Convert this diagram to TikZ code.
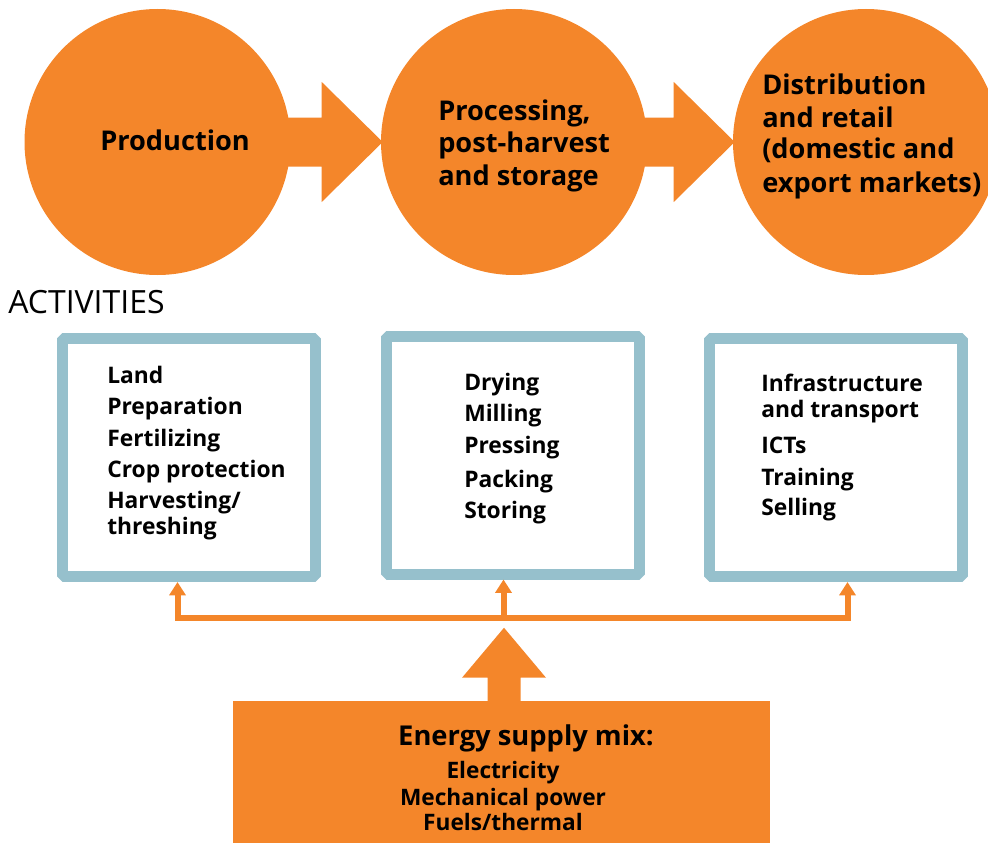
\documentclass[tikz,border=0pt]{standalone}
\usepackage{fontspec}
\setmainfont{Open Sans}
\usetikzlibrary{arrows.meta,calc}
\definecolor{chainorange}{HTML}{F4862A}
\definecolor{framblue}{HTML}{96C0CC}
% fat arrow from one stage circle to the next
\newcommand{\stagearrow}[2]{%
  \fill[chainorange] ($(#1.east)+(-8,-24.5)$) -- ($(#2.west)+(-59,-24.5)$)
    -- ($(#2.west)+(-59,-60)$) -- ($(#2.west)+(2,0)$) -- ($(#2.west)+(-59,60)$)
    -- ($(#2.west)+(-59,24.5)$) -- ($(#1.east)+(-8,24.5)$) -- cycle;}

\begin{document}
\begin{tikzpicture}[x=0.75pt,y=-0.75pt,
  stage/.style={circle, fill=chainorange, minimum size=199.5pt, inner sep=0pt},
  stagetext/.style={anchor=base west, inner sep=0pt, font=\fontsize{20.4}{24}\selectfont\bfseries},
  actbox/.style={draw=framblue, line width=8.25pt, line join=bevel, minimum width=189.75pt, minimum height=178.5pt, inner sep=0pt},
  item/.style={anchor=base west, inner sep=0pt, font=\fontsize{17.1}{21}\selectfont\bfseries},
  feed/.style={draw=chainorange, line width=4.5pt},
  >={Triangle[width=12pt,length=10pt]}]
\useasboundingbox (0,0) rectangle (988,842);

% Stages of the chain
\node[stage] (prod) at (157.5,142) {};
\node[stage] (proc) at (514,142) {};
\node[stage] (dist) at (866,142) {};
\stagearrow{prod}{proc}
\stagearrow{proc}{dist}

\node[stagetext] (prodt) at (100,150) {Production};
\foreach \y/\t [count=\i] in {120/{Processing,},152/post-harvest,185/and storage}
    \node[stagetext] (proct\i) at (438,\y) {\t};
\foreach \y/\t [count=\i] in {94/Distribution,127/and retail,158/(domestic and,192/export markets)}
    \node[stagetext] (distt\i) at (762,\y) {\t};

\node[anchor=base west, inner sep=0pt, font=\fontsize{24}{28}\selectfont] (acts) at (8,313) {ACTIVITIES};

% Activity boxes
\node[actbox] (box1) at (189,457.5) {};
\node[actbox] (box2) at (513,455) {};
\node[actbox] (box3) at (836,457.5) {};

\foreach \y/\t [count=\i] in {383/Land,414/Preparation,446/Fertilizing,477/Crop protection,508/{Harvesting/},534/threshing}
    \node[item] (prodi\i) at (107,\y) {\t};
\foreach \y/\t [count=\i] in {390/Drying,421/Milling,453/Pressing,487/Packing,518/Storing}
    \node[item] (proci\i) at (464,\y) {\t};
\foreach \y/\t [count=\i] in {391/Infrastructure,417/and transport,453/ICTs,485/Training,515/Selling}
    \node[item] (disti\i) at (761,\y) {\t};

% Energy feeding the activities
\coordinate (jl) at (177.5,618);
\coordinate (jm) at (503.5,618);
\coordinate (jr) at (847.5,618);
\draw[feed,<->] (jl |- box1.south) -- (jl) -- (jr) -- (jr |- box3.south);
\draw[feed,->] (jm) -- (jm |- box2.south);

\node[fill=chainorange, minimum width=402.75pt, minimum height=110.25pt, inner sep=0pt] (mix) at (501.5,774.5) {};
\coordinate (up) at ($(mix.north)+(2.5,0)$);
\fill[chainorange] ($(up)+(-16.5,1)$) -- ($(up)+(-16.5,-23)$) -- ($(up)+(-42,-23)$) -- ($(up)+(0,-73)$)
    -- ($(up)+(42,-23)$) -- ($(up)+(16.5,-23)$) -- ($(up)+(16.5,1)$) -- cycle;

\node[anchor=base, inner sep=0pt, font=\fontsize{20.5}{24}\selectfont\bfseries] (mixt) at (526,745) {Energy supply mix:};
\foreach \y/\t [count=\i] in {778/Electricity,805/Mechanical power,830/{Fuels/thermal}}
    \node[anchor=base, inner sep=0pt, font=\fontsize{17}{20}\selectfont\bfseries] (mixi\i) at (503,\y) {\t};
\end{tikzpicture}
\end{document}
